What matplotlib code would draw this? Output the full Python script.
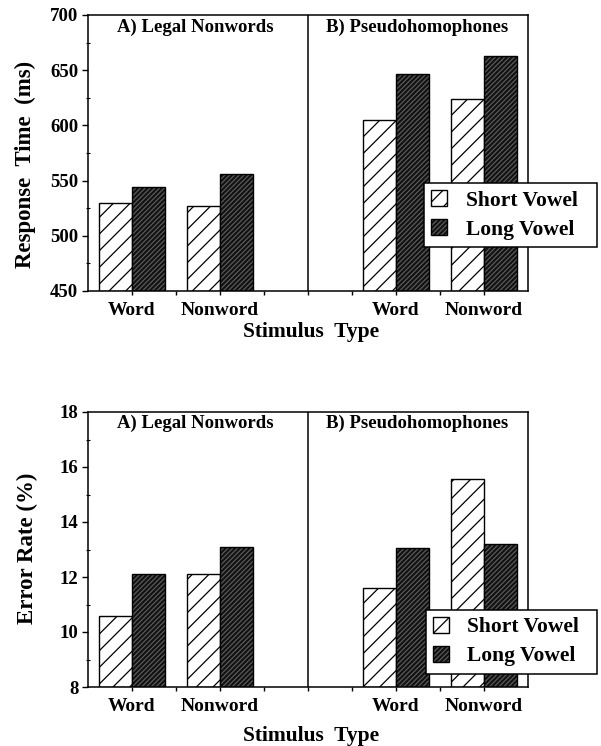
import matplotlib
matplotlib.use('Agg')
import matplotlib.pyplot as plt
import matplotlib.patches as mpatches
from matplotlib.legend_handler import HandlerTuple
from matplotlib.ticker import MultipleLocator

# positions of the four stimulus groups on a 0..10 axis (divider at 5)
group_pos = [1, 3, 7, 9]
group_labels = ['Word', 'Nonword', 'Word', 'Nonword']
panel_titles = ['A) Legal Nonwords', 'B) Pseudohomophones']

# response times (ms): A word, A nonword, B word, B nonword
rt_short = [530, 527, 605, 624]
rt_long = [544, 556, 647, 663]

# error rates (%)
err_short = [10.6, 12.1, 11.6, 15.55]
err_long = [12.1, 13.1, 13.05, 13.2]

plt.rcParams['font.family'] = ['Liberation Serif', 'DejaVu Serif']
plt.rcParams['font.weight'] = 'bold'
plt.rcParams['hatch.linewidth'] = 0.9

W = 0.74
DARK = '#111111'
HATCH_GREY = '#5a5a5a'


def draw_panel(ax, short, long_, ymin, ymax, major, minor, ylabel, ylab_pos, leg_box):
    left = [p - W for p in group_pos]
    ax.bar(left, [s - ymin for s in short], W, bottom=ymin, align='edge',
           facecolor='white', edgecolor='black', hatch='//', linewidth=1.0)
    ax.bar(group_pos, [v - ymin for v in long_], W, bottom=ymin, align='edge',
           facecolor=DARK, edgecolor=HATCH_GREY, hatch='///////', linewidth=0)
    ax.bar(group_pos, [v - ymin for v in long_], W, bottom=ymin, align='edge',
           fill=False, edgecolor='black', linewidth=1.0)
    ax.axvline(5, color='black', lw=1.1)
    ax.set_xlim(0, 10)
    ax.set_ylim(ymin, ymax)
    ax.yaxis.set_major_locator(MultipleLocator(major))
    ax.yaxis.set_minor_locator(MultipleLocator(minor))
    ax.set_xticks(range(1, 10))
    ax.set_xticklabels([group_labels[group_pos.index(i)] if i in group_pos else '' for i in range(1, 10)])
    ax.tick_params(axis='x', direction='out', length=3, width=1, pad=5, labelsize=14)
    ax.tick_params(axis='y', which='major', direction='out', length=4, width=1, pad=3, labelsize=13.5)
    ax.tick_params(axis='y', which='minor', direction='inout', length=3, width=0.8)
    for sp in ax.spines.values():
        sp.set_linewidth(1.1)
    ax.text(2.45, 0.957, panel_titles[0], transform=ax.get_xaxis_transform(),
            ha='center', va='center', fontsize=13.5, fontweight='bold')
    ax.text(7.48, 0.957, panel_titles[1], transform=ax.get_xaxis_transform(),
            ha='center', va='center', fontsize=13.5, fontweight='bold')
    ax.set_ylabel(ylabel, fontsize=16.5, fontweight='bold')
    ax.yaxis.set_label_coords(*ylab_pos)

    h_short = mpatches.Patch(facecolor='white', edgecolor='black', hatch='//', linewidth=1.0)
    h_long = (mpatches.Patch(facecolor=DARK, edgecolor=HATCH_GREY, hatch='///////', linewidth=0),
              mpatches.Patch(fill=False, edgecolor='black', linewidth=1.0))
    leg = ax.legend([h_short, h_long], ['Short Vowel', 'Long Vowel'],
                    handler_map={tuple: HandlerTuple(ndivide=1)},
                    loc='upper left', bbox_to_anchor=leg_box, mode='expand', borderaxespad=0,
                    frameon=True, fancybox=False, edgecolor='black', framealpha=1,
                    prop={'size': 15.5, 'weight': 'bold'}, handlelength=0.75, handleheight=0.75,
                    handletextpad=0.85, labelspacing=0.4, borderpad=0.33)
    leg.get_frame().set_linewidth(1.1)
    leg.set_clip_on(False)


fig = plt.figure(figsize=(6.01, 7.46), dpi=100)
ax1 = fig.add_axes([88 / 601, 1 - 291 / 746, 440 / 601, 276 / 746])
ax2 = fig.add_axes([88 / 601, 1 - 687 / 746, 440 / 601, 275 / 746])

draw_panel(ax1, rt_short, rt_long, 450, 700, 50, 25, 'Response  Time  (ms)',
           (-0.118, 0.457), (0.764, 0.0, 0.393, 0.391))
draw_panel(ax2, err_short, err_long, 8, 18, 2, 1, 'Error Rate (%)',
           (-0.114, 0.505), (0.768, 0.0, 0.389, 0.28))

ax1.set_xlabel('Stimulus  Type', fontsize=15.5, fontweight='bold')
ax1.xaxis.set_label_coords(0.507, -0.112)
ax2.set_xlabel('Stimulus  Type', fontsize=15.5, fontweight='bold')
ax2.xaxis.set_label_coords(0.507, -0.142)

fig.savefig('out.png', dpi=100)
